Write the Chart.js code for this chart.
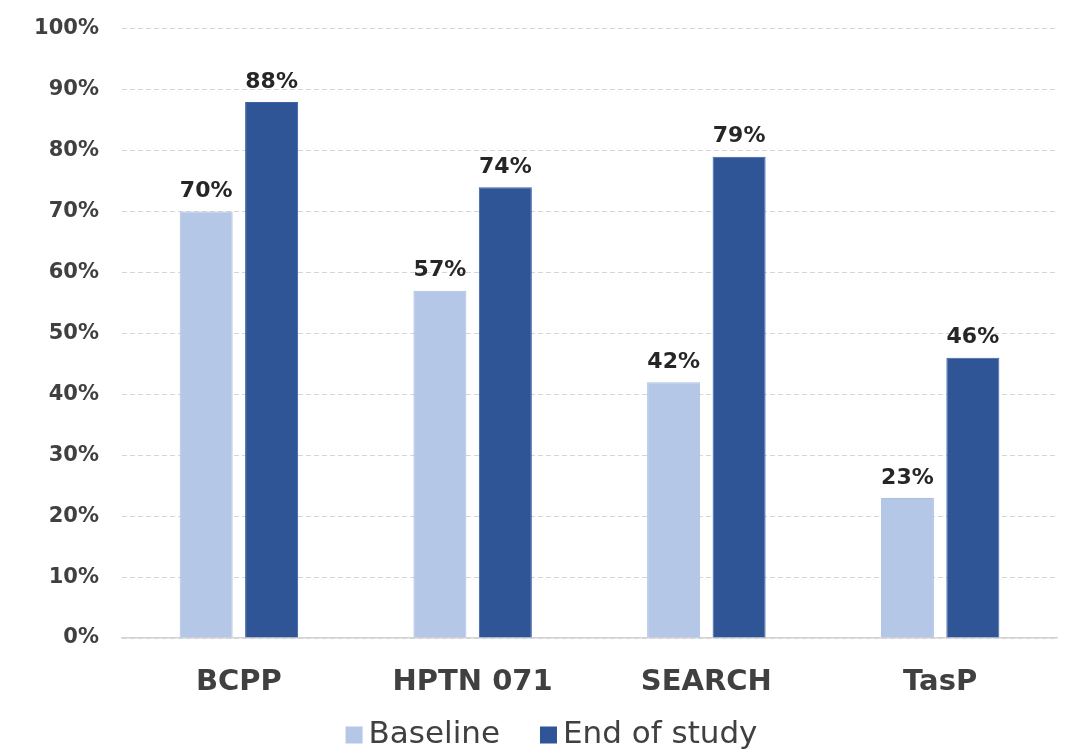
<!DOCTYPE html>
<html>
<head>
<meta charset="utf-8">
<script src="https://cdn.jsdelivr.net/npm/chart.js@4/dist/chart.umd.min.js"></script>
<style>
html,body{margin:0;padding:0;background:#fff;}
#wrap{width:1071px;height:753px;position:relative;}
</style>
</head>
<body>
<div id="wrap"><canvas id="c" width="1071" height="753"></canvas></div>
<script>
const categories = ["BCPP", "HPTN 071", "SEARCH", "TasP"];
const baseline = [70, 57, 42, 23];
const endOfStudy = [88, 74, 79, 46];
const seriesNames = ["Baseline", "End of study"];
const seriesColors = ["#b4c7e7", "#2f5597"];
const yTicks = [0,10,20,30,40,50,60,70,80,90,100];

const FONT = "'DejaVu Sans', sans-serif";

const valueLabels = {
  id: 'valueLabels',
  afterDatasetsDraw(chart) {
    const ctx = chart.ctx;
    ctx.save();
    ctx.font = "bold 22px " + FONT;
    ctx.fillStyle = "#262626";
    ctx.textAlign = "center";
    ctx.textBaseline = "bottom";
    chart.data.datasets.forEach((ds, i) => {
      const meta = chart.getDatasetMeta(i);
      meta.data.forEach((bar, j) => {
        ctx.fillText(ds.data[j] + "%", bar.x, bar.y - 9);
      });
    });
    ctx.restore();
  }
};

// legend drawn on the canvas (box, small gap, text), centred under the plot
const customLegend = {
  id: 'customLegend',
  afterDraw(chart) {
    const ctx = chart.ctx;
    ctx.save();
    ctx.font = "31px " + FONT;
    ctx.textBaseline = "middle";
    ctx.textAlign = "left";
    const box = 17, gapBoxText = 6, gapItems = 40;
    const items = chart.data.datasets.map(ds => ({
      text: ds.label, color: ds.backgroundColor, w: ctx.measureText(ds.label).width
    }));
    const total = items.reduce((s, it) => s + box + gapBoxText + it.w, 0) + gapItems * (items.length - 1);
    let x = chart.width / 2 + 16 - total / 2;
    const yc = chart.height - 18;
    items.forEach(it => {
      ctx.fillStyle = it.color;
      ctx.fillRect(x, yc - box / 2, box, box);
      x += box + gapBoxText;
      ctx.fillStyle = "#404040";
      ctx.fillText(it.text, x, yc);
      x += it.w + gapItems;
    });
    ctx.restore();
  }
};

new Chart(document.getElementById('c'), {
  type: 'bar',
  data: {
    labels: categories,
    datasets: [
      { label: seriesNames[0], data: baseline, backgroundColor: seriesColors[0], borderColor: "#a9bfe3", borderWidth: 1 },
      { label: seriesNames[1], data: endOfStudy, backgroundColor: seriesColors[1], borderColor: "#3a62a8", borderWidth: 1 }
    ]
  },
  options: {
    responsive: false,
    animation: false,
    devicePixelRatio: 1,
    layout: { padding: { left: 0, right: 14, top: 4, bottom: 0 } },
    datasets: { bar: { categoryPercentage: 0.56, barPercentage: 0.81 } },
    plugins: {
      legend: { display: false },
      tooltip: { enabled: false }
    },
    scales: {
      x: {
        afterFit(scale) { scale.height = 115; },
        grid: { display: false, drawTicks: false },
        border: { display: true, color: "#d4d4d4", width: 1.5 },
        ticks: { font: { family: FONT, size: 29, weight: 'bold' }, color: "#404040", padding: 27 }
      },
      y: {
        min: 0, max: 100,
        afterBuildTicks(scale) { scale.ticks = yTicks.map(v => ({ value: v })); },
        afterFit(scale) { scale.width = 122; },
        grid: { color: "#d6d6d6", drawTicks: false, lineWidth: 1 },
        border: { display: false, dash: [5,3] },
        ticks: {
          font: { family: FONT, size: 21, weight: 'bold', lineHeight: 0.55 }, color: "#404040", padding: 23,
          callback: v => v + "%"
        }
      }
    }
  },
  plugins: [valueLabels, customLegend]
});
</script>
</body>
</html>
